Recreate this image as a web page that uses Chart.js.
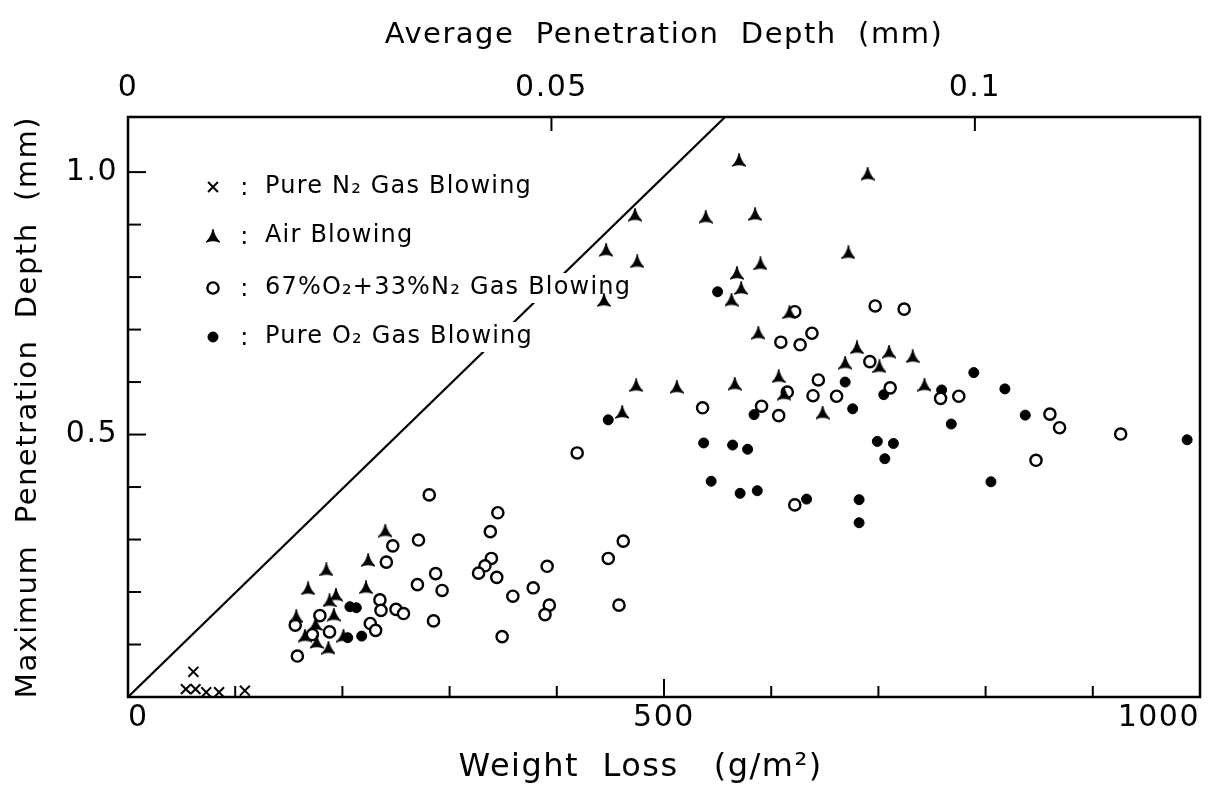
<!DOCTYPE html>
<html><head><meta charset="utf-8">
<script src="https://cdn.jsdelivr.net/npm/chart.js@4/dist/chart.umd.min.js"></script>
<style>html,body{margin:0;padding:0;background:#fff;}canvas{display:block;}</style>
</head><body>
<canvas id="c" width="1225" height="793"></canvas>
<script>
// ---- data ----
const seriesLabels = ["Pure N\u2082 Gas Blowing", "Air Blowing", "67%O\u2082+33%N\u2082 Gas Blowing", "Pure O\u2082 Gas Blowing"];
const n2X = [54, 61, 63, 73, 85, 109];
const n2Y = [0.015, 0.048, 0.015, 0.009, 0.009, 0.012];
const airX = [240,224,185,168,222,194,188,157,192,175,165,176,187,201,473,446,475,444,474,461,570,690,539,585,672,590,568,572,563,588,617,680,710,732,669,701,607,512,566,612,743,648];
const airY = [0.317,0.261,0.243,0.207,0.209,0.195,0.184,0.154,0.157,0.139,0.117,0.105,0.094,0.117,0.919,0.852,0.830,0.756,0.594,0.543,1.023,0.997,0.915,0.920,0.847,0.826,0.808,0.779,0.757,0.694,0.733,0.666,0.658,0.649,0.637,0.630,0.611,0.591,0.597,0.578,0.595,0.542];
const mixX = [419,281,345,338,271,247,462,241,339,333,327,344,448,391,287,270,293,359,378,393,389,458,235,236,250,257,285,349,226,231,179,188,172,156,158,697,724,622,638,609,627,692,644,615,639,661,536,607,758,775,711,591,860,869,926,847,622];
const mixY = [0.465,0.385,0.351,0.315,0.299,0.288,0.297,0.257,0.264,0.250,0.236,0.228,0.264,0.249,0.235,0.214,0.203,0.192,0.208,0.175,0.157,0.175,0.185,0.165,0.167,0.159,0.145,0.115,0.140,0.127,0.155,0.124,0.119,0.137,0.078,0.745,0.739,0.734,0.693,0.676,0.671,0.639,0.604,0.581,0.574,0.573,0.551,0.536,0.569,0.573,0.589,0.554,0.539,0.513,0.501,0.451,0.366];
const o2X = [448,207,213,218,205,550,669,789,818,759,705,676,584,837,768,988,537,564,578,699,714,706,805,544,571,587,633,682,682];
const o2Y = [0.528,0.172,0.170,0.116,0.113,0.772,0.600,0.618,0.587,0.585,0.576,0.549,0.538,0.537,0.520,0.490,0.484,0.480,0.472,0.487,0.483,0.454,0.410,0.411,0.388,0.393,0.377,0.376,0.332];
const lineX = [0, 557];
const lineY = [0, 1.105];
const xTickValues = [0, 100, 200, 300, 400, 500, 600, 700, 800, 900, 1000];
const xLabelValues = [0, 500, 1000];
const yTickValues = [0, 0.1, 0.2, 0.3, 0.4, 0.5, 0.6, 0.7, 0.8, 0.9, 1.0];
const yLabelValues = [0.5, 1.0];
const topTickValues = [0, 0.05, 0.1];
const density = 7900; // g/m^2 per mm of average penetration
const xMax = 1000, yMax = 1.105;

const pts = (xs, ys) => xs.map((x, i) => ({x, y: ys[i]}));
const FONT = "'DejaVu Sans', sans-serif";

// tripod-like marker for "Air Blowing"
function makeTripod(size) {
  const c = document.createElement('canvas');
  c.width = size; c.height = size;
  const g = c.getContext('2d');
  const s = size, cx = s / 2, cy = s * 0.6;
  const T = [cx, 0.5], L = [0.5, s - 1], R = [s - 0.5, s - 1];
  const k = 0.55;
  const mid = (p, q) => [(p[0] + q[0]) / 2, (p[1] + q[1]) / 2];
  const pull = m => [m[0] + (cx - m[0]) * k, m[1] + (cy - m[1]) * k];
  g.fillStyle = '#000';
  g.beginPath();
  g.moveTo(T[0], T[1]);
  let c1 = pull(mid(T, R)); g.quadraticCurveTo(c1[0], c1[1], R[0], R[1]);
  let c2 = pull(mid(R, L)); g.quadraticCurveTo(c2[0], c2[1], L[0], L[1]);
  let c3 = pull(mid(L, T)); g.quadraticCurveTo(c3[0], c3[1], T[0], T[1]);
  g.closePath();
  g.fill();
  g.strokeStyle = '#000'; g.lineWidth = 1.2; g.stroke();
  return c;
}
const tripod = makeTripod(14);

const styles = [
  {pointStyle: 'crossRot', radius: 7, borderWidth: 2, backgroundColor: '#000', borderColor: '#000'},
  {pointStyle: tripod, radius: 7, borderWidth: 1, backgroundColor: '#000', borderColor: '#000'},
  {pointStyle: 'circle', radius: 5.6, borderWidth: 2.4, backgroundColor: '#fff', borderColor: '#000'},
  {pointStyle: 'circle', radius: 5, borderWidth: 1, backgroundColor: '#000', borderColor: '#000'}
];
const seriesData = [pts(n2X, n2Y), pts(airX, airY), pts(mixX, mixY), pts(o2X, o2Y)];

// line dataset drawn first (highest order value draws first)
const datasets = [{label: 'line', data: pts(lineX, lineY), showLine: true, borderColor: '#000', borderWidth: 2.2, pointRadius: 0, fill: false, order: 10}];
seriesData.forEach((d, i) => datasets.push({
  label: seriesLabels[i], data: d, order: 1,
  pointStyle: styles[i].pointStyle, pointRadius: styles[i].radius, pointHoverRadius: styles[i].radius,
  pointBorderWidth: styles[i].borderWidth, pointBackgroundColor: styles[i].backgroundColor,
  pointBorderColor: styles[i].borderColor, showLine: false
}));

const spacing = {
  id: 'spacing',
  beforeLayout(chart) { chart.ctx.letterSpacing = '1.5px'; },
  beforeDraw(chart) { chart.ctx.letterSpacing = '1.5px'; }
};

// legend inside the plot; drawn right after the diagonal line so its text knocks the line out
const insideLegend = {
  id: 'insideLegend',
  afterDatasetDraw(chart, args) {
    if (args.index !== 0) return;
    const ctx = chart.ctx;
    const rows = [187, 236, 288, 337];
    const mx = 213, cx = 245, tx = 265;
    ctx.save();
    ctx.letterSpacing = '1.2px';
    ctx.font = "24px " + FONT;
    ctx.textBaseline = 'middle';
    seriesLabels.forEach((lab, i) => {
      const w = ctx.measureText(lab).width;
      ctx.fillStyle = '#fff';
      ctx.fillRect(tx - 4, rows[i] - 15, w + 8, 30);
      const s = styles[i];
      ctx.fillStyle = s.backgroundColor; ctx.strokeStyle = s.borderColor; ctx.lineWidth = s.borderWidth;
      Chart.helpers.drawPoint(ctx, {pointStyle: s.pointStyle, radius: s.radius, rotation: 0, borderWidth: s.borderWidth}, mx, rows[i]);
      ctx.fillStyle = '#000';
      ctx.textAlign = 'center';
      ctx.fillText(':', cx, rows[i] + 2);
      ctx.textAlign = 'left';
      ctx.fillText(lab, tx, rows[i]);
    });
    ctx.restore();
  }
};

const frame = {
  id: 'frame',
  afterDatasetsDraw(chart) {
    const ctx = chart.ctx, a = chart.chartArea;
    const xs = chart.scales.x, ys = chart.scales.y, xt = chart.scales.x2;
    ctx.save();
    ctx.strokeStyle = '#000'; ctx.lineWidth = 2.5;
    ctx.strokeRect(a.left, a.top, a.right - a.left, a.bottom - a.top);
    ctx.lineWidth = 2;
    const seg = (x1, y1, x2, y2) => { ctx.beginPath(); ctx.moveTo(x1, y1); ctx.lineTo(x2, y2); ctx.stroke(); };
    xs.ticks.forEach(t => {
      if (t.value <= 0 || t.value >= xMax) return;
      const p = xs.getPixelForValue(t.value);
      seg(p, a.bottom, p, a.bottom - (t.value % 500 === 0 ? 18 : 11));
    });
    ys.ticks.forEach(t => {
      if (t.value <= 0 || t.value >= yMax) return;
      const p = ys.getPixelForValue(t.value);
      const major = Math.abs(t.value * 2 - Math.round(t.value * 2)) < 1e-6;
      seg(a.left, p, a.left + (major ? 18 : 13), p);
    });
    xt.ticks.forEach(t => {
      if (t.value <= 0) return;
      const p = xt.getPixelForValue(t.value);
      seg(p, a.top, p, a.top + 14);
    });
    ctx.restore();
  }
};

const noSidePad = s => { s.paddingLeft = 0; s.paddingRight = 0; };

new Chart(document.getElementById('c'), {
  type: 'scatter',
  data: {datasets},
  plugins: [spacing, insideLegend, frame],
  options: {
    responsive: false, animation: false, devicePixelRatio: 1,
    layout: {padding: {left: 0, right: 25, top: 0, bottom: 0}},
    plugins: {legend: {display: false}, tooltip: {enabled: false}},
    scales: {
      x: {
        type: 'linear', position: 'bottom', min: 0, max: xMax,
        grid: {display: false, drawTicks: false}, border: {display: false},
        afterBuildTicks: s => { s.ticks = xTickValues.map(v => ({value: v})); },
        ticks: {autoSkip: false, maxRotation: 0, padding: 3, color: '#000', align: 'inner',
          font: {family: FONT, size: 30},
          callback: v => xLabelValues.includes(v) ? String(v) : ''},
        title: {display: true, text: 'Weight  Loss   (g/m\u00B2)    ', color: '#000',
          font: {family: FONT, size: 32}, padding: {top: 0, bottom: 6}},
        afterFit: s => { s.height = 96; noSidePad(s); }
      },
      x2: {
        type: 'linear', position: 'top', min: 0, max: xMax / density,
        grid: {display: false, drawTicks: false}, border: {display: false},
        afterBuildTicks: s => { s.ticks = topTickValues.map(v => ({value: v})); },
        ticks: {autoSkip: false, maxRotation: 0, padding: 11, color: '#000',
          font: {family: FONT, size: 30},
          callback: v => String(v)},
        title: {display: true, text: 'Average  Penetration  Depth  (mm)', color: '#000',
          font: {family: FONT, size: 29}, padding: {top: 18, bottom: 0}},
        afterFit: s => { s.height = 117; noSidePad(s); }
      },
      y: {
        type: 'linear', position: 'left', min: 0, max: yMax,
        grid: {display: false, drawTicks: false}, border: {display: false},
        afterBuildTicks: s => { s.ticks = yTickValues.map(v => ({value: v})); },
        ticks: {autoSkip: false, padding: 10, color: '#000',
          font: {family: FONT, size: 30},
          callback: v => { const m = yLabelValues.find(t => Math.abs(t - v) < 1e-9); return m === undefined ? '' : m.toFixed(1); }},
        title: {display: true, text: 'Maximum  Penetration  Depth  (mm)', color: '#000',
          font: {family: FONT, size: 29}, padding: {top: 11, bottom: 0}},
        afterFit: s => { s.width = 128; s.paddingTop = 0; s.paddingBottom = 0; }
      }
    }
  }
});
</script>
</body></html>
